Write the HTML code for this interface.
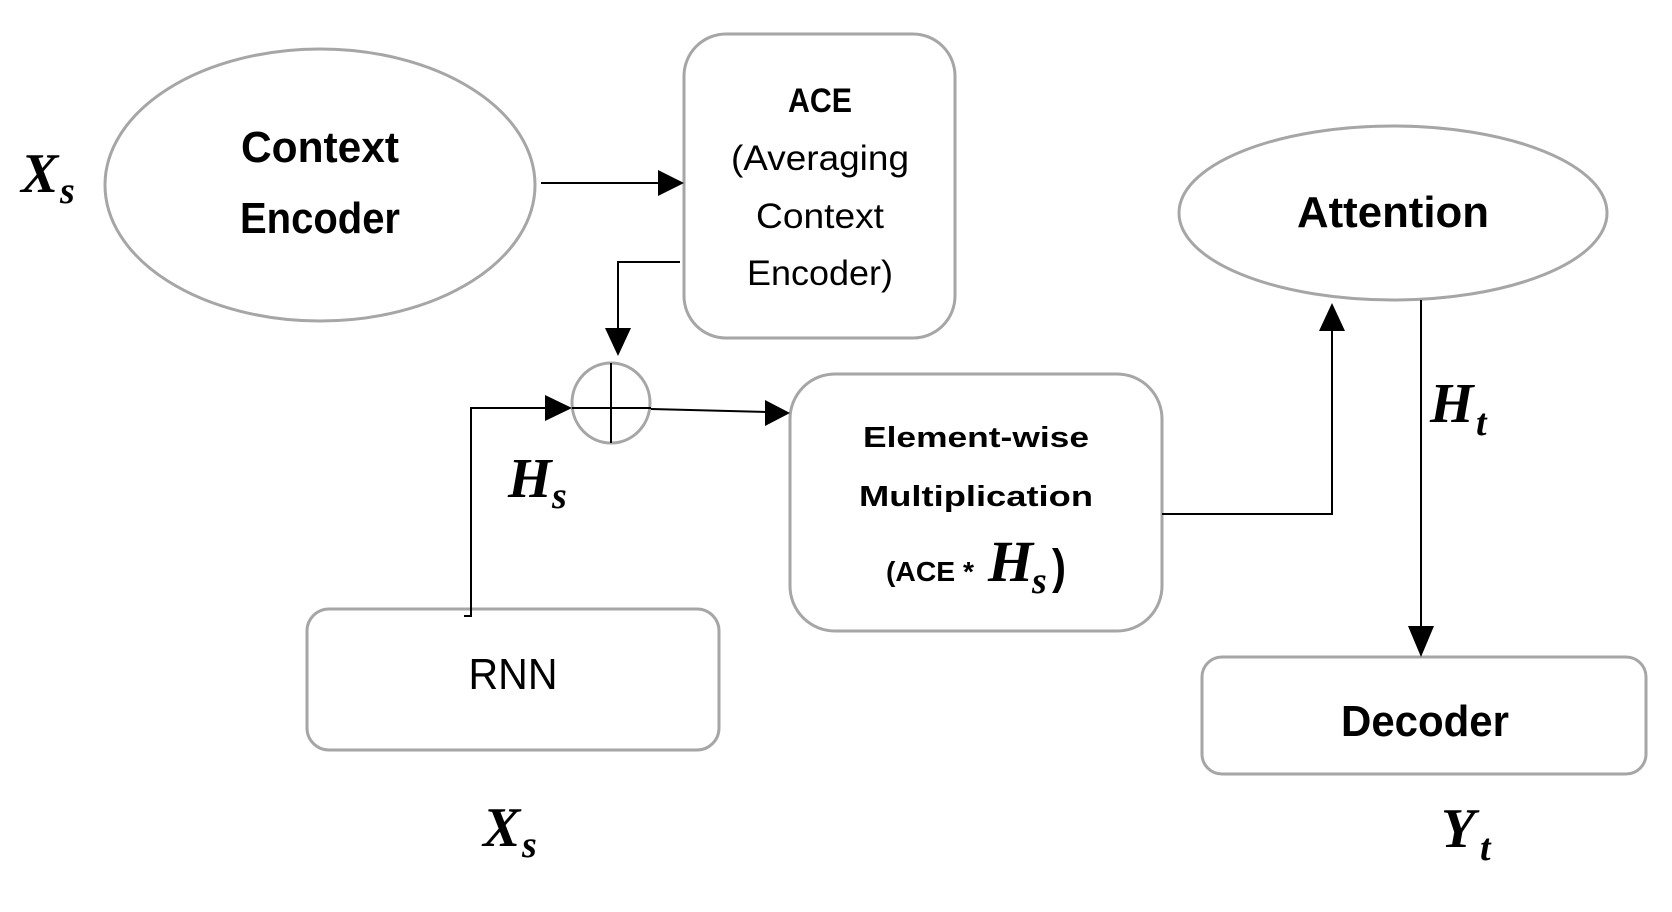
<!DOCTYPE html>
<html><head><meta charset="utf-8"><style>
html,body{margin:0;padding:0;background:#fff;}
svg{display:block;}
.b{font-family:"Liberation Sans",sans-serif;font-weight:bold;fill:#000;}
.r{font-family:"Liberation Sans",sans-serif;fill:#000;}
.m{font-family:"Liberation Serif",serif;font-weight:bold;font-style:italic;fill:#000;}
</style></head><body>
<svg width="1672" height="912" viewBox="0 0 1672 912" xmlns="http://www.w3.org/2000/svg">
<g fill="none" stroke="#a6a6a6" stroke-width="3">
<ellipse cx="320" cy="185" rx="215" ry="136"/>
<rect x="684" y="34" width="271" height="304" rx="42"/>
<ellipse cx="611" cy="403" rx="39" ry="40"/>
<rect x="790" y="374" width="372" height="257" rx="45"/>
<ellipse cx="1393" cy="213" rx="214" ry="87"/>
<rect x="307" y="609" width="412" height="141" rx="22"/>
<rect x="1202" y="657" width="444" height="117" rx="20"/>
</g>
<g stroke="#000" stroke-width="2" fill="none">
<line x1="541" y1="183" x2="660" y2="183"/>
<polyline points="680,262 618,262 618,328"/>
<line x1="611" y1="363" x2="611" y2="443"/>
<line x1="572" y1="408" x2="651" y2="408"/>
<polyline points="464,616 471,616 471,408 545,408"/>
<line x1="651" y1="409" x2="768" y2="412"/>
<polyline points="1162,514 1332,514 1332,330"/>
<line x1="1421" y1="300" x2="1421" y2="628"/>
</g>
<g fill="#000">
<polygon points="684,183 658,170 658,196"/>
<polygon points="618,356 605,328 631,328"/>
<polygon points="572,408 545,395 545,421"/>
<polygon points="790,413 765,400 765,426"/>
<polygon points="1332,303 1319,331 1345,331"/>
<polygon points="1421,657 1408,626 1434,626"/>
</g>
<text class="b" x="320" y="162" font-size="44" text-anchor="middle" textLength="158" lengthAdjust="spacingAndGlyphs">Context</text>
<text class="b" x="320" y="233" font-size="44" text-anchor="middle" textLength="160" lengthAdjust="spacingAndGlyphs">Encoder</text>
<text class="b" x="820" y="112" font-size="34" text-anchor="middle" textLength="64" lengthAdjust="spacingAndGlyphs">ACE</text>
<text class="r" x="820" y="170" font-size="35" text-anchor="middle" textLength="178" lengthAdjust="spacingAndGlyphs">(Averaging</text>
<text class="r" x="820" y="228" font-size="35" text-anchor="middle" textLength="128" lengthAdjust="spacingAndGlyphs">Context</text>
<text class="r" x="820" y="285" font-size="35" text-anchor="middle" textLength="146" lengthAdjust="spacingAndGlyphs">Encoder)</text>
<text class="b" x="976" y="447" font-size="29" text-anchor="middle" textLength="226" lengthAdjust="spacingAndGlyphs">Element-wise</text>
<text class="b" x="976" y="506" font-size="29" text-anchor="middle" textLength="234" lengthAdjust="spacingAndGlyphs">Multiplication</text>
<text class="b" x="886" y="581" font-size="28" textLength="88" lengthAdjust="spacingAndGlyphs">(ACE *</text>
<text class="m" x="988" y="581" font-size="58">H</text>
<text class="m" x="1032" y="593" font-size="38">s</text>
<text class="b" x="1052" y="583" font-size="48" textLength="14" lengthAdjust="spacingAndGlyphs">)</text>
<text class="b" x="1393" y="227" font-size="44" text-anchor="middle" textLength="192" lengthAdjust="spacingAndGlyphs">Attention</text>
<text class="r" x="513" y="689" font-size="44" text-anchor="middle" textLength="89" lengthAdjust="spacingAndGlyphs">RNN</text>
<text class="b" x="1425" y="736" font-size="44" text-anchor="middle" textLength="168" lengthAdjust="spacingAndGlyphs">Decoder</text>
<text class="m" x="21" y="192" font-size="56">X</text><text class="m" x="60" y="203" font-size="38">s</text>
<text class="m" x="508" y="497" font-size="56">H</text><text class="m" x="552" y="508" font-size="38">s</text>
<text class="m" x="483" y="846" font-size="56">X</text><text class="m" x="522" y="857" font-size="38">s</text>
<text class="m" x="1430" y="422" font-size="56">H</text><text class="m" x="1476" y="435" font-size="38">t</text>
<text class="m" x="1441" y="847" font-size="56">Y</text><text class="m" x="1480" y="860" font-size="38">t</text>
</svg>
</body></html>
